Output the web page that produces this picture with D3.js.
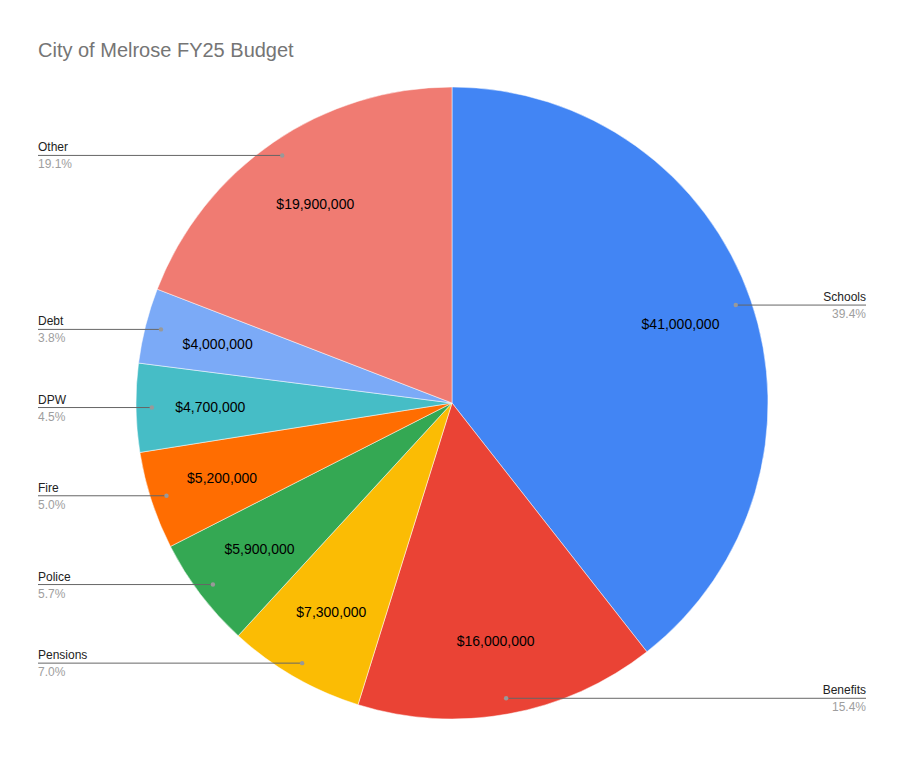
<!DOCTYPE html>
<html lang="en">
<head>
<meta charset="utf-8">
<script src="https://d3js.org/d3.v7.min.js"></script>
<style type="text/css">
body {
	margin: 0;
	background-color: white;
	font-family: "Liberation Sans", Arial, sans-serif;
}
</style>
</head>
<body>

<svg id="chart"></svg>

<script type="text/javascript">

	// budget items, clockwise from 12 o'clock
	var categories = ["Schools", "Benefits", "Pensions", "Police", "Fire", "DPW", "Debt", "Other"];
	var amounts = [41000000, 16000000, 7300000, 5900000, 5200000, 4700000, 4000000, 19900000];
	var colors = ["#4285f4", "#ea4335", "#fbbc04", "#34a853", "#ff6d01", "#46bdc6", "#7baaf7", "#f07b72"];

	var width = 904;
	var height = 757;
	var cx = 452, cy = 403, radius = 316;

	var svg = d3.select("#chart")
		.attr("width", width)
		.attr("height", height);

	// title
	svg.append("text")
		.attr("x", 38)
		.attr("y", 57)
		.style("font-size", "20px")
		.style("fill", "#757575")
		.text("City of Melrose FY25 Budget");

	var rows = categories.map(function(c, i) {
		return {name: c, value: amounts[i], color: colors[i]};
	});
	var total = d3.sum(amounts);

	var pie = d3.pie()
		.sort(null)
		.value(function(d) { return d.value; });

	var arcs = pie(rows);

	var arc = d3.arc().innerRadius(0).outerRadius(radius);
	var dotArc = d3.arc().innerRadius(radius * 0.95).outerRadius(radius * 0.95);
	var textArc = d3.arc().innerRadius(radius * 0.765).outerRadius(radius * 0.765);

	var g = svg.append("g").attr("transform", "translate(" + cx + "," + cy + ")");

	g.selectAll("path")
		.data(arcs)
		.join("path")
		.attr("d", arc)
		.style("fill", function(d) { return d.data.color; })
		.style("stroke", "#fff")
		.style("stroke-width", "0.5");

	var money = d3.format("$,");

	// values inside slices
	g.selectAll("text.val")
		.data(arcs)
		.join("text")
		.attr("class", "val")
		.attr("x", function(d) { return textArc.centroid(d)[0]; })
		.attr("y", function(d) { return textArc.centroid(d)[1]; })
		.attr("dy", "0.35em")
		.attr("text-anchor", "middle")
		.style("font-size", "14px")
		.style("fill", "#000")
		.text(function(d) { return money(d.data.value); });

	// leader lines + outside labels
	var pct = d3.format(".1%");
	var labels = svg.append("g");

	arcs.forEach(function(d) {
		var p = dotArc.centroid(d);
		var x = cx + p[0], y = cy + p[1];
		var right = p[0] > 0;
		var endX = right ? 866 : 38;

		labels.append("line")
			.attr("x1", x).attr("y1", y)
			.attr("x2", endX).attr("y2", y)
			.style("stroke", "#666")
			.style("stroke-width", 1);

		labels.append("circle")
			.attr("cx", x).attr("cy", y)
			.attr("r", 2.2)
			.style("fill", "#999");

		labels.append("text")
			.attr("x", endX)
			.attr("y", y - 4)
			.attr("text-anchor", right ? "end" : "start")
			.style("font-size", "12px")
			.style("fill", "#222")
			.text(d.data.name);

		labels.append("text")
			.attr("x", endX)
			.attr("y", y + 13)
			.attr("text-anchor", right ? "end" : "start")
			.style("font-size", "12px")
			.style("fill", "#9e9e9e")
			.text(pct(d.data.value / total));
	});

</script>
</body>
</html>
